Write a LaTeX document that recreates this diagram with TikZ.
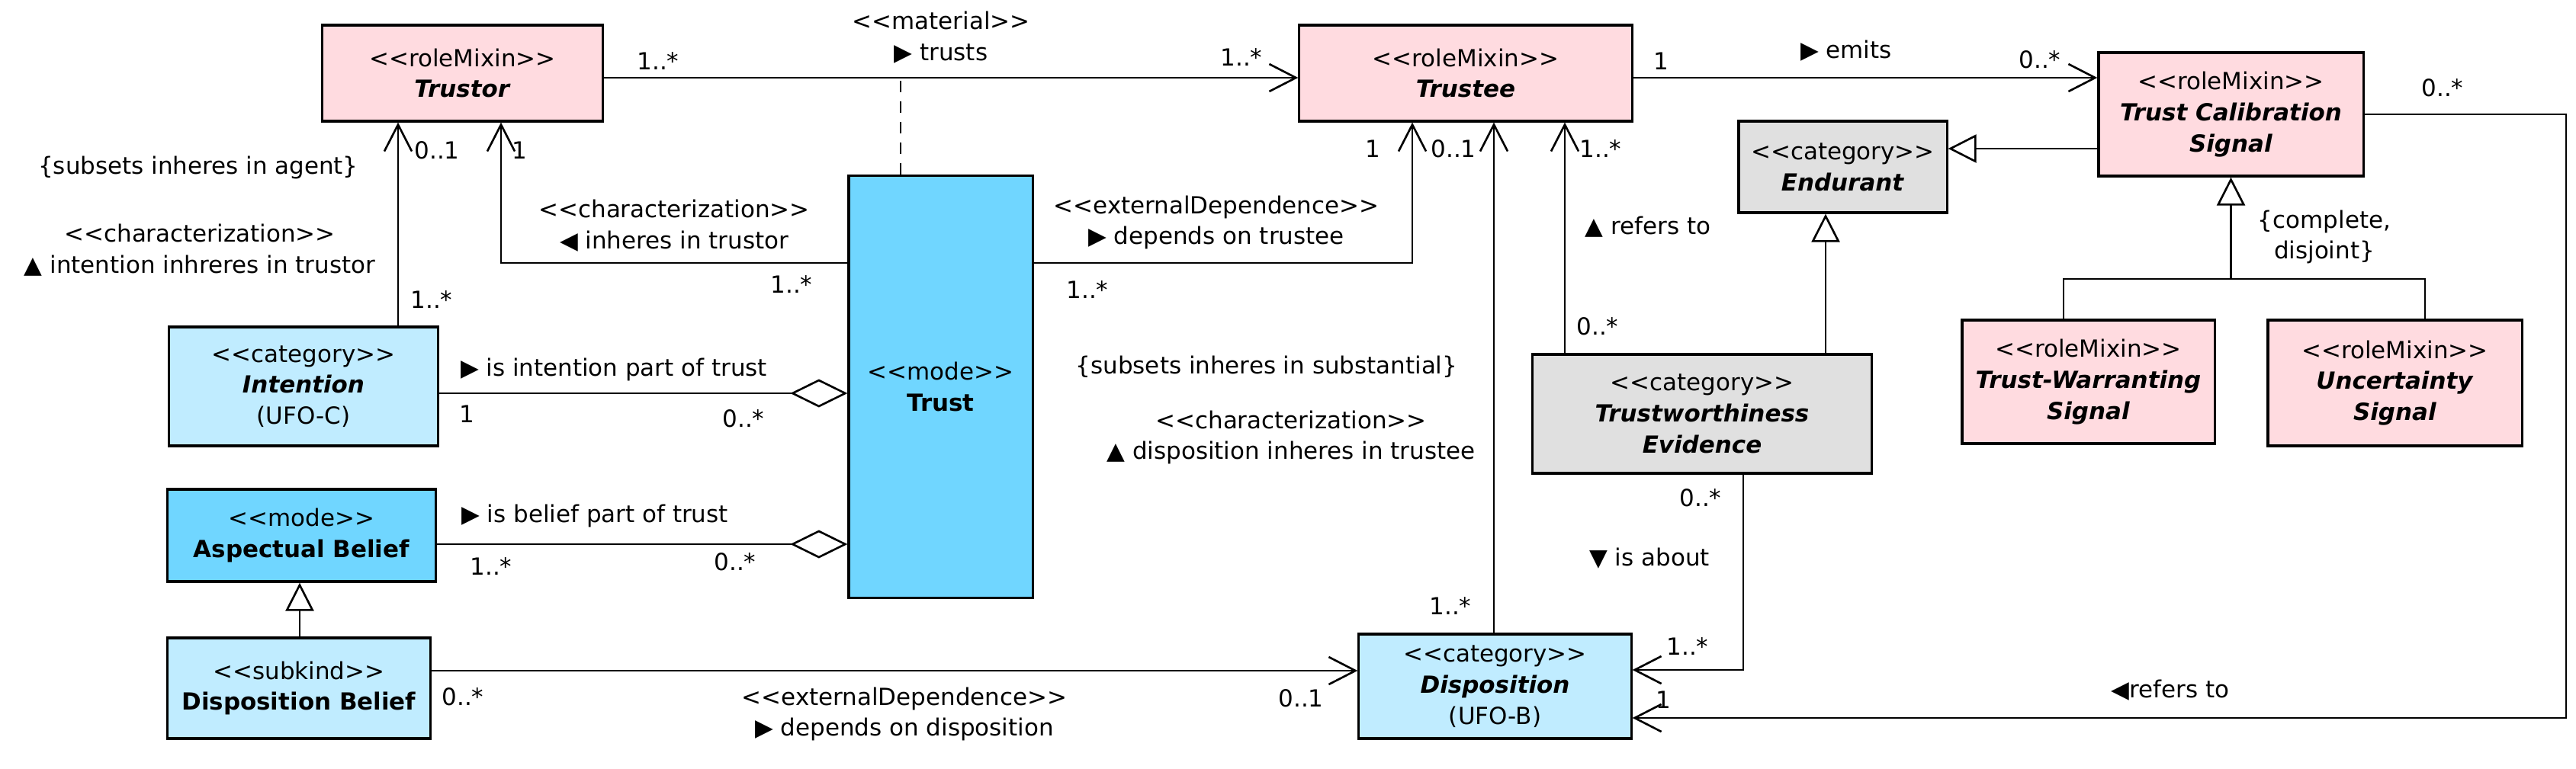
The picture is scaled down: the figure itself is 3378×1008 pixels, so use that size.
\documentclass[tikz,border=0pt]{standalone}
\usepackage{fontspec}
\setmainfont{DejaVu Sans}[Ligatures=TeXOff]
\usepackage{xcolor}
\usetikzlibrary{arrows.meta, positioning, calc}
\definecolor{roleMix}{RGB}{255,219,224}
\definecolor{modeBlue}{RGB}{112,214,255}
\definecolor{catBlue}{RGB}{192,236,255}
\definecolor{catGrey}{RGB}{224,224,224}
\newcommand{\stereo}[1]{<<#1>>}
\newcommand{\cname}[1]{\textbf{\textit{#1}}}

\begin{document}
\begin{tikzpicture}[x=0.01cm, y=-0.01cm, font=\fontsize{8.8}{11.6}\selectfont,
  cls/.style={draw, line width=0.9pt, inner sep=0pt, align=center},
  lbl/.style={inner sep=0pt, align=center},
  assoc/.style={line width=0.75pt},
  nav/.style={assoc, -{Straight Barb[length=0.35cm, width=0.36cm]}},
  gen/.style={assoc, -{Triangle[open, fill=white, length=0.37cm, width=0.37cm]}},
  agg/.style={assoc, -{Diamond[open, fill=white, length=0.75cm, width=0.37cm]}},
  matdash/.style={assoc, dash pattern=on 0.15cm off 0.12cm}]
  \useasboundingbox (0,0) rectangle (3378,1008);

  % Classes
  \node[cls, fill=roleMix, minimum width=3.67cm, minimum height=1.26cm] (trustor) at (606.5,96) {\stereo{roleMixin}\\\cname{Trustor}};
  \node[cls, fill=roleMix, minimum width=4.36cm, minimum height=1.26cm] (trustee) at (1922,96) {\stereo{roleMixin}\\\cname{Trustee}};
  \node[cls, fill=roleMix, minimum width=3.47cm, minimum height=1.62cm] (tcs) at (2925.5,150) {\stereo{roleMixin}\\\cname{Trust Calibration}\\\cname{Signal}};
  \node[cls, fill=catGrey, minimum width=2.73cm, minimum height=1.20cm] (endurant) at (2416.5,219) {\stereo{category}\\\cname{Endurant}};
  \node[cls, fill=modeBlue, minimum width=2.41cm, minimum height=5.53cm] (trust) at (1233.5,507.5) {\stereo{mode}\\\textbf{Trust}};
  \node[cls, fill=catBlue, minimum width=3.52cm, minimum height=1.56cm] (intention) at (398,507) {\stereo{category}\\\cname{Intention}\\(UFO-C)};
  \node[cls, fill=modeBlue, minimum width=3.51cm, minimum height=1.21cm] (abelief) at (395.5,702.5) {\stereo{mode}\\\textbf{Aspectual Belief}};
  \node[cls, fill=catBlue, minimum width=3.44cm, minimum height=1.32cm] (dbelief) at (392,903) {\stereo{subkind}\\\textbf{Disposition Belief}};
  \node[cls, fill=catBlue, minimum width=3.57cm, minimum height=1.37cm] (disposition) at (1960.5,900.5) {\stereo{category}\\\cname{Disposition}\\(UFO-B)};
  \node[cls, fill=catGrey, minimum width=4.44cm, minimum height=1.56cm] (evidence) at (2232,543) {\stereo{category}\\\cname{Trustworthiness}\\\cname{Evidence}};
  \node[cls, fill=roleMix, minimum width=3.31cm, minimum height=1.62cm] (warrant) at (2738.5,501) {\stereo{roleMixin}\\\cname{Trust-Warranting}\\\cname{Signal}};
  \node[cls, fill=roleMix, minimum width=3.33cm, minimum height=1.65cm] (uncert) at (3140.5,502.5) {\stereo{roleMixin}\\\cname{Uncertainty}\\\cname{Signal}};

  \coordinate (matJ) at (1181,102);

  % Associations
  \draw[nav] (trustor.east |- matJ) -- (trustee.west |- matJ);
  \draw[matdash] (trust.north -| matJ) -- (matJ);
  \draw[nav] (trustee.east |- matJ) -- (tcs.west |- matJ);
  \draw[nav] (tcs.east) -| (3365,942) -- (disposition.east |- 0,942);
  \draw[nav] (evidence.south -| 2286,0) |- (disposition.east |- 0,879);
  \draw[nav] (evidence.north -| 2052,0) -- (trustee.south -| 2052,0);
  \draw[nav] (disposition.north -| 1959,0) -- (trustee.south -| 1959,0);
  \draw[nav] (trust.east |- 0,345) -| (trustee.south -| 1852,0);
  \draw[nav] (trust.west |- 0,345) -| (trustor.south -| 657,0);
  \draw[nav] (intention.north -| 522,0) -- (trustor.south -| 522,0);
  \draw[agg] (intention.east |- 0,516) -- (trust.west |- 0,516);
  \draw[agg] (abelief.east |- 0,714) -- (trust.west |- 0,714);
  \draw[nav] (dbelief.east |- 0,880) -- (disposition.west |- 0,880);

  % Generalizations
  \draw[gen] (tcs.west |- 0,195) -- (endurant.east |- 0,195);
  \draw[gen] (evidence.north -| 2394,0) -- (endurant.south -| 2394,0);
  \draw[gen] (warrant.north -| 2706,0) |- (tcs.south |- 0,366) -- (tcs.south);
  \draw[assoc] (uncert.north -| 3180,0) |- (tcs.south |- 0,366);
  \draw[gen] (dbelief.north -| 393,0) -- (abelief.south -| 393,0);

  % Labels
  \node[lbl] (mTrusts1) at (863,80) {1..*};
  \node[lbl] (mTrusts2) at (1628,75) {1..*};
  \node[lbl] (lTrusts) at (1234,49) {\stereo{material}\\▶ trusts};
  \node[lbl] (mEmits1) at (2178,80) {1};
  \node[lbl] (mEmits2) at (2675,78) {0..*};
  \node[lbl] (lEmits) at (2421,67) {▶ emits};
  \node[lbl] (lGenSet) at (3048,311) {\{complete,\\disjoint\}};
  \node[lbl] (mSig1) at (3203,115) {0..*};
  \node[lbl] (mSig2) at (2181,918) {1};
  \node[lbl] (lSig) at (2846,906) {◀refers to};
  \node[lbl] (mAbout1) at (2230,653) {0..*};
  \node[lbl] (lAbout) at (2163,733) {▼ is about};
  \node[lbl] (mAbout2) at (2213,848) {1..*};
  \node[lbl] (mRef1) at (2095,428) {0..*};
  \node[lbl] (mRef2) at (2099,195) {1..*};
  \node[lbl] (lRef) at (2161,298) {▲ refers to};
  \node[lbl] (mDisp1) at (1906,195) {0..1};
  \node[lbl] (mDisp2) at (1902,795) {1..*};
  \node[lbl] (lDispSub) at (1661,481) {\{subsets inheres in substantial\}};
  \node[lbl] (lDisp) at (1693,574) {\stereo{characterization}\\▲ disposition inheres in trustee};
  \node[lbl] (mDep1) at (1800,195) {1};
  \node[lbl] (mDep2) at (1426,380) {1..*};
  \node[lbl] (lDep) at (1595,292) {\stereo{externalDependence}\\▶ depends on trustee};
  \node[lbl] (mInh1) at (1038,373) {1..*};
  \node[lbl] (mInh2) at (681,197) {1};
  \node[lbl] (lInh) at (884,296) {\stereo{characterization}\\◀ inheres in trustor};
  \node[lbl] (mInt1) at (573,197) {0..1};
  \node[lbl] (mInt2) at (566,393) {1..*};
  \node[lbl] (lIntSub) at (260,220) {\{subsets inheres in agent\}};
  \node[lbl] (lInt) at (262,328) {\stereo{characterization}\\▲ intention inhreres in trustor};
  \node[lbl] (lIntPart) at (805,485) {▶ is intention part of trust};
  \node[lbl] (mIntPart1) at (612,543) {1};
  \node[lbl] (mIntPart2) at (975,549) {0..*};
  \node[lbl] (lBelPart) at (780,677) {▶ is belief part of trust};
  \node[lbl] (mBelPart1) at (644,743) {1..*};
  \node[lbl] (mBelPart2) at (964,737) {0..*};
  \node[lbl] (mDb1) at (607,914) {0..*};
  \node[lbl] (mDb2) at (1706,916) {0..1};
  \node[lbl] (lDb) at (1186,937) {\stereo{externalDependence}\\▶ depends on disposition};
\end{tikzpicture}
\end{document}
